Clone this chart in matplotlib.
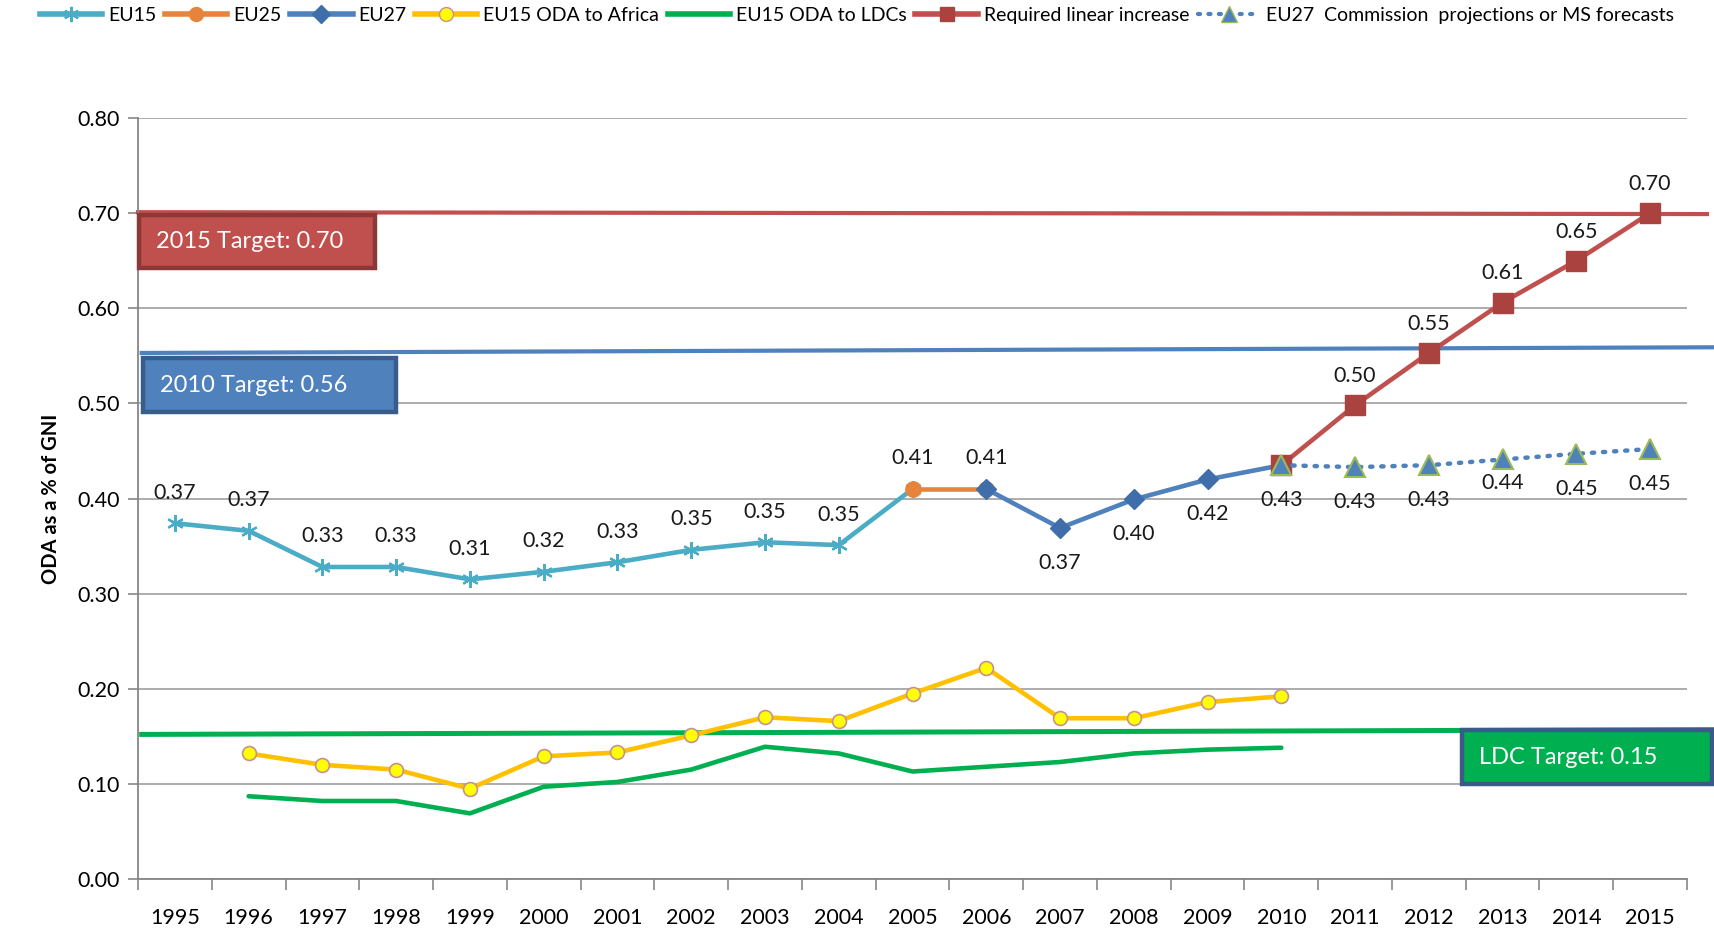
import matplotlib
matplotlib.use("Agg")
import matplotlib.pyplot as plt
from matplotlib.patches import Rectangle
from matplotlib.lines import Line2D

plt.rcParams['font.family'] = ['Lato', 'DejaVu Sans']

# ---------------- data ----------------
years_all = list(range(1995, 2016))
eu15_years = list(range(1995, 2006))
eu15_vals = [0.374, 0.366, 0.328, 0.328, 0.315, 0.323, 0.333, 0.346, 0.354, 0.351, 0.410]
eu15_labels = ["0.37", "0.37", "0.33", "0.33", "0.31", "0.32", "0.33", "0.35", "0.35", "0.35", "0.41"]

eu25_years = [2005, 2006]
eu25_vals = [0.410, 0.410]
eu25_labels = ["", "0.41"]

eu27_years = [2006, 2007, 2008, 2009, 2010]
eu27_vals = [0.410, 0.369, 0.399, 0.420, 0.435]
eu27_labels = ["", "0.37", "0.40", "0.42", ""]

africa_years = list(range(1996, 2011))
africa_vals = [0.132, 0.120, 0.115, 0.095, 0.129, 0.133, 0.151, 0.170, 0.166,
               0.195, 0.222, 0.169, 0.169, 0.186, 0.192]

ldc_years = list(range(1996, 2011))
ldc_vals = [0.087, 0.082, 0.082, 0.069, 0.097, 0.102, 0.115, 0.139, 0.132,
            0.113, 0.118, 0.123, 0.132, 0.136, 0.138]

req_years = [2010, 2011, 2012, 2013, 2014, 2015]
req_vals = [0.435, 0.498, 0.553, 0.606, 0.650, 0.700]
req_labels = ["", "0.50", "0.55", "0.61", "0.65", "0.70"]

fc_years = [2010, 2011, 2012, 2013, 2014, 2015]
fc_vals = [0.435, 0.433, 0.435, 0.441, 0.447, 0.452]
fc_labels = ["0.43", "0.43", "0.43", "0.44", "0.45", "0.45"]
fc_label_offsets = [-25, -25, -25, -17, -25, -25]

target_2015 = (0.701, 0.699)
target_2010 = (0.553, 0.559)
target_ldc = (0.152, 0.157)

# ---------------- figure ----------------
W, H = 1714, 930
fig = plt.figure(figsize=(W / 100, H / 100), dpi=100)
ax = fig.add_axes([138 / W, 1 - 879 / H, (1687 - 138) / W, (879 - 118) / H])

FS = 15.5
ax.set_xlim(1994.5, 2015.5)
ax.set_ylim(0, 0.8)
ax.set_yticks([i / 10 for i in range(9)])
ax.set_yticklabels([f"{i/10:.2f}" for i in range(9)])
ax.set_xticks(years_all)
ax.set_xticklabels([str(y) for y in years_all])
ax.set_xticks([y + 0.5 for y in range(1994, 2016)], minor=True)
ax.tick_params(axis='x', which='major', length=0, pad=21, labelsize=FS)
ax.tick_params(axis='x', which='minor', length=8, color='#868686', width=1.2)
ax.tick_params(axis='y', length=7, color='#868686', width=1.2, labelsize=FS, pad=6)
ax.grid(axis='y', color='#A6A6A6', linewidth=1.3)
ax.set_axisbelow(True)
for s in ['top', 'right']:
    ax.spines[s].set_visible(False)
for s in ['left', 'bottom']:
    ax.spines[s].set_color('#868686')
    ax.spines[s].set_linewidth(1.3)
ax.set_ylabel("ODA as a % of GNI", fontsize=14.5, fontweight='bold', labelpad=12)

# target lines (extend beyond axes)
ax.plot([1994.5, 2015.77], list(target_2015), color='#C0504D', lw=3.0, clip_on=False, zorder=2)
ax.plot([1994.55, 2016.0], list(target_2010), color='#4F81BD', lw=3.0, clip_on=False, zorder=2)
ax.plot([1994.55, 2016.0], list(target_ldc), color='#00B050', lw=3.6, clip_on=False, zorder=2)

# series
lw = 3.3
ax.plot(ldc_years, ldc_vals, color='#00B050', lw=lw, zorder=3, solid_capstyle='round')
ax.plot(africa_years, africa_vals, color='#FFC000', lw=lw, marker='o', ms=10,
        mfc='#FFFF00', mec='#C89090', mew=1.2, zorder=4)
ax.plot(eu15_years, eu15_vals, color='#4BACC6', lw=lw, marker=(6, 2, 0), ms=12,
        mec='#4BACC6', mew=1.6, zorder=4)
ax.plot(eu25_years, eu25_vals, color='#E6843C', lw=lw, marker='o', ms=11,
        mfc='#E6843C', mec='#E6843C', zorder=4)
ax.plot(eu27_years, eu27_vals, color='#4F81BD', lw=lw, marker='D', ms=10,
        mfc='#3F6EAA', mec='#3F6EAA', zorder=4)
ax.plot(req_years, req_vals, color='#C0504D', lw=lw, marker='s', ms=14,
        mfc='#AA4240', mec='#AA4240', zorder=5)
ax.plot(fc_years, fc_vals, color='#4F81BD', lw=3.2, ls=(0, (0.5, 2.0)), dash_capstyle='round',
        marker='^', ms=14, mfc='#4F81BD', mec='#9BBB59', mew=1.5, zorder=6)

# data labels
def labels(xs, ys, texts, dy):
    if not isinstance(dy, list):
        dy = [dy] * len(xs)
    for x, y, t, d in zip(xs, ys, texts, dy):
        if t:
            ax.annotate(t, (x, y), xytext=(0, d), textcoords='offset points',
                        ha='center', va='center', fontsize=FS, color='#1a1a1a', zorder=7)

labels(eu15_years, eu15_vals, eu15_labels, 22)
labels(eu25_years, eu25_vals, eu25_labels, 22)
labels(eu27_years, eu27_vals, eu27_labels, -25)
labels(req_years, req_vals, req_labels, 21)
labels(fc_years, fc_vals, fc_labels, fc_label_offsets)

# target boxes (figure pixel coordinates)
def box(x0, y0, x1, y1, face, edge, text):
    r = Rectangle((x0 / W, 1 - y1 / H), (x1 - x0) / W, (y1 - y0) / H,
                  transform=fig.transFigure, facecolor=face, edgecolor=edge,
                  linewidth=3.2, zorder=10)
    fig.patches.append(r)
    fig.text((x0 + 17) / W, 1 - (y0 + y1) / 2 / H, text, color='white', fontsize=17,
             ha='left', va='center', zorder=11)

box(139, 215, 375, 268, '#C0504D', '#8C3836', "2015 Target: 0.70")
box(143, 358, 396, 412, '#4F81BD', '#385D8A', "2010 Target: 0.56")
box(1462, 730, 1712, 784, '#00B050', '#3B5A87', "LDC Target: 0.15")

# legend
handles = [
    Line2D([], [], color='#4BACC6', lw=4, marker=(6, 2, 0), ms=11, mew=1.5),
    Line2D([], [], color='#E6843C', lw=4, marker='o', ms=10),
    Line2D([], [], color='#4F81BD', lw=4, marker='D', ms=9, mfc='#3F6EAA', mec='#3F6EAA'),
    Line2D([], [], color='#FFC000', lw=4, marker='o', ms=10, mfc='#FFFF00', mec='#C89090'),
    Line2D([], [], color='#00B050', lw=4),
    Line2D([], [], color='#C0504D', lw=4, marker='s', ms=10, mfc='#AA4240', mec='#AA4240'),
    Line2D([], [], color='#4F81BD', lw=3, ls=(0, (0.5, 2.0)), dash_capstyle='round',
           marker='^', ms=11, mfc='#4F81BD', mec='#9BBB59'),
]
names = ["EU15", "EU25", "EU27", "EU15 ODA to Africa", "EU15 ODA to LDCs",
         "Required linear increase", "EU27  Commission  projections or MS forecasts"]
fig.legend(handles, names, loc='upper center', bbox_to_anchor=(0.5, 1.005), ncol=7,
           frameon=False, fontsize=14, handlelength=3.2, handletextpad=0.3,
           columnspacing=0.45, borderaxespad=0.2)

fig.savefig("out.png", dpi=100)
